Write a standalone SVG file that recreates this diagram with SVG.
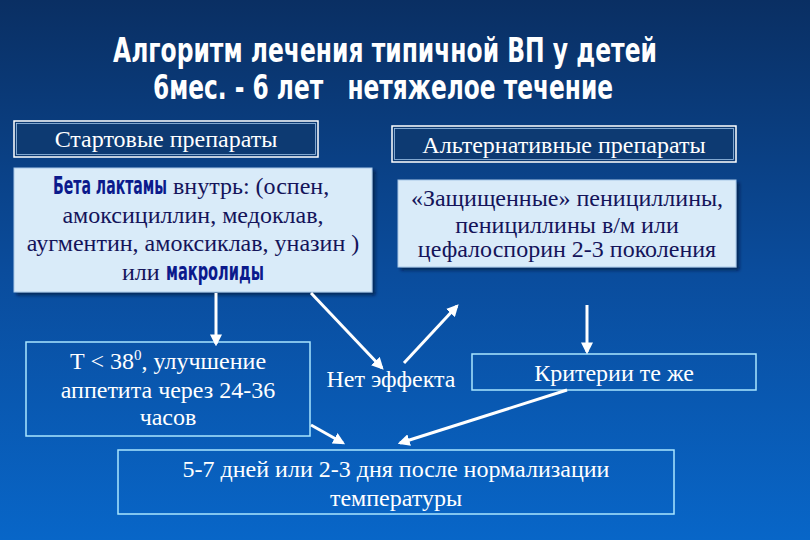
<svg xmlns="http://www.w3.org/2000/svg" width="810" height="540" viewBox="0 0 810 540">
<defs>
<linearGradient id="bg" x1="0" y1="0" x2="0" y2="1">
<stop offset="0" stop-color="#0a2f63"/>
<stop offset="0.5" stop-color="#0a4c9c"/>
<stop offset="1" stop-color="#0866c8"/>
</linearGradient>
<marker id="ah" viewBox="0 0 10 10" refX="8" refY="5" markerWidth="4" markerHeight="4" orient="auto" markerUnits="strokeWidth">
<path d="M0,0 L10,5 L0,10 z" fill="#ffffff"/>
</marker>
<filter id="sh" x="-5%" y="-5%" width="112%" height="115%">
<feDropShadow dx="3" dy="3" stdDeviation="1.5" flood-color="#000a30" flood-opacity="0.6"/>
</filter>
</defs>
<style>
.title{font-family:"DejaVu Sans Condensed","Liberation Sans",sans-serif;font-weight:bold;font-size:33px;fill:#ffffff;text-anchor:middle;white-space:pre}
.hdr{fill:#0d3a72;stroke:#ffffff;stroke-width:1.5}
.hdr2{fill:none;stroke:#9fc3e8;stroke-width:0.8}
.light{fill:#d9ebf9;stroke:#a8c8e8;stroke-width:1}
.out{fill:none;stroke:#a9e6ff;stroke-width:1.5}
.wt{font-family:"Liberation Serif","Times New Roman",serif;font-size:24px;fill:#ffffff;text-anchor:middle}
.dt{font-family:"Liberation Serif","Times New Roman",serif;font-size:24px;fill:#14145a;text-anchor:middle}
.ds{font-family:"Liberation Serif","Times New Roman",serif;font-size:24px;fill:#14145a}
.bd{font-family:"DejaVu Sans Condensed","Liberation Sans",sans-serif;font-weight:bold;font-size:24px;fill:#0b1a8c}
.conn line{stroke:#ffffff;stroke-width:3;marker-end:url(#ah)}
</style>
<rect x="0" y="0" width="810" height="540" fill="url(#bg)"/>
<g id="title">
<text class="title" x="385" y="62" textLength="544" lengthAdjust="spacingAndGlyphs">Алгоритм лечения типичной ВП у детей</text>
<text class="title" x="383" y="99" textLength="460" lengthAdjust="spacingAndGlyphs" xml:space="preserve">6мес. - 6 лет   нетяжелое течение</text>
</g>
<g id="start-header">
<rect class="hdr" x="14" y="121" width="304" height="36"/>
<rect class="hdr2" x="16.5" y="123.5" width="299" height="31"/>
<text class="wt" x="166" y="147">Стартовые препараты</text>
</g>
<g id="alt-header">
<rect class="hdr" x="392" y="126" width="344" height="36"/>
<rect class="hdr2" x="394.5" y="128.5" width="339" height="31"/>
<text class="wt" x="564" y="153">Альтернативные препараты</text>
</g>
<g id="start-drugs">
<rect class="light" x="14" y="168" width="358" height="124" filter="url(#sh)"/>
<text class="bd" transform="translate(53,194) scale(0.7,1)" textLength="163" lengthAdjust="spacingAndGlyphs">Бета лактамы</text>
<text class="ds" x="173" y="194">внутрь: (оспен,</text>
<text class="dt" x="193" y="223">амоксициллин, медоклав,</text>
<text class="dt" x="193" y="251">аугментин, амоксиклав, уназин )</text>
<text class="ds" x="122" y="280">или</text>
<text class="bd" transform="translate(166,280) scale(0.7,1)" textLength="140" lengthAdjust="spacingAndGlyphs">макролиды</text>
</g>
<g id="alt-drugs">
<rect class="light" x="398" y="180" width="338" height="87" filter="url(#sh)"/>
<text class="dt" x="567" y="206">«Защищенные» пенициллины,</text>
<text class="dt" x="567" y="233">пенициллины в/м или</text>
<text class="dt" x="567" y="257">цефалоспорин 2-3 поколения</text>
</g>
<g id="improvement">
<rect class="out" x="26" y="342" width="284" height="94"/>
<text class="wt" x="168" y="369">Т &lt; 38<tspan font-size="15" dy="-9">0</tspan><tspan dy="9">, улучшение</tspan></text>
<text class="wt" x="168" y="398">аппетита через 24-36</text>
<text class="wt" x="168" y="425">часов</text>
</g>
<g id="no-effect">
<text class="wt" x="391" y="387">Нет эффекта</text>
</g>
<g id="criteria">
<rect class="out" x="472" y="354" width="284" height="36"/>
<text class="wt" x="614" y="381">Критерии те же</text>
</g>
<g id="duration">
<rect class="out" x="118" y="450" width="556" height="64"/>
<text class="wt" x="396" y="477">5-7 дней или 2-3 дня после нормализации</text>
<text class="wt" x="396" y="506">температуры</text>
</g>
<g id="connectors" class="conn">
<line x1="216" y1="293" x2="216" y2="344"/>
<line x1="311" y1="293" x2="382" y2="368"/>
<line x1="404" y1="363" x2="457" y2="306"/>
<line x1="587" y1="305" x2="587" y2="352"/>
<line x1="311" y1="425" x2="343" y2="443"/>
<line x1="567" y1="390" x2="400" y2="443"/>
</g>
</svg>
